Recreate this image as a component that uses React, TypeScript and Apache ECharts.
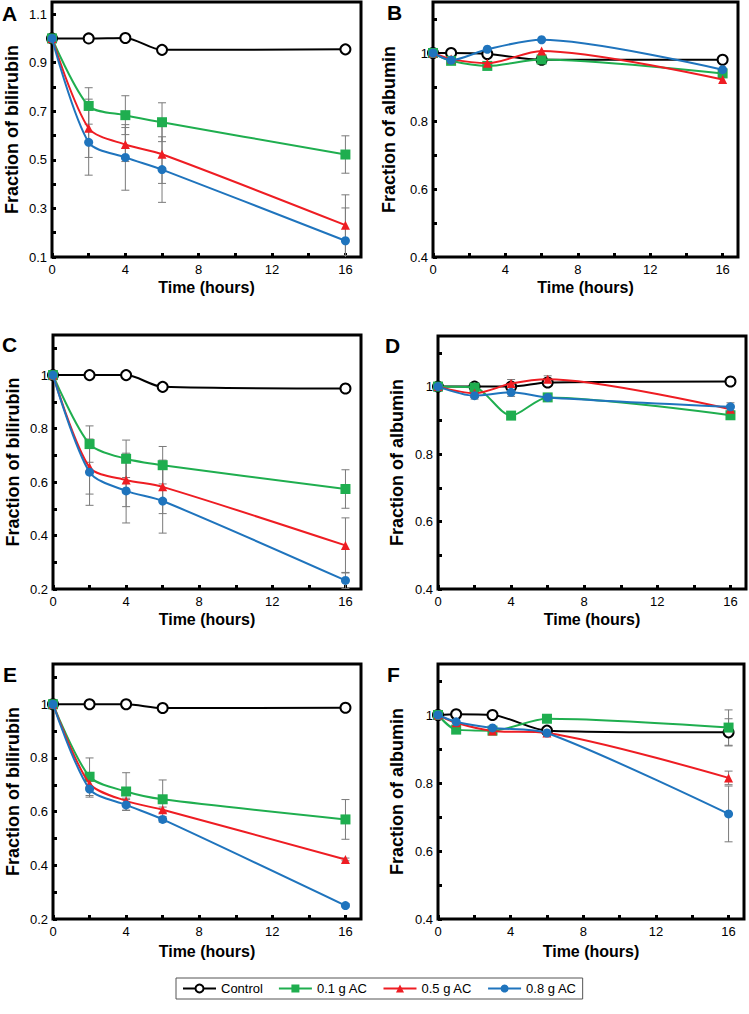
import React, { useEffect, useRef } from "react";
import * as echarts from "echarts";

// ---- data ----
const seriesNames = ["Control", "0.1 g AC", "0.5 g AC", "0.8 g AC"];

const timesA = [0, 2, 4, 6, 16];
const aControl = [1.0, 1.0, 1.002, 0.953, 0.955];
const aLow = [1.0, 0.722, 0.684, 0.655, 0.522];
const aMid = [1.0, 0.63, 0.563, 0.523, 0.231];
const aHigh = [1.0, 0.572, 0.51, 0.46, 0.167];
const aLowErr = [0, 0.075, 0.08, 0.08, 0.077];
const aMidErr = [0, 0.12, 0.07, 0.12, 0.125];
const aHighErr = [0, 0.135, 0.135, 0.135, 0.135];

const timesB = [0, 1, 3, 6, 16];
const bControl = [1.0, 1.0, 0.997, 0.98, 0.98];
const bLow = [1.0, 0.977, 0.962, 0.981, 0.94];
const bMid = [1.0, 0.982, 0.97, 1.006, 0.922];
const bHigh = [1.0, 0.979, 1.011, 1.039, 0.951];

const timesC = [0, 2, 4, 6, 16];
const cControl = [1.0, 1.0, 1.0, 0.956, 0.95];
const cLow = [1.0, 0.742, 0.687, 0.663, 0.574];
const cMid = [1.0, 0.655, 0.608, 0.582, 0.363];
const cHigh = [1.0, 0.637, 0.567, 0.529, 0.232];
const cLowErr = [0, 0.068, 0.07, 0.07, 0.072];
const cMidErr = [0, 0.1, 0.1, 0.1, 0.103];
const cHighErr = [0, 0.124, 0.12, 0.12, 0.03];

const timesD = [0, 2, 4, 6, 16];
const dControl = [1.0, 1.0, 1.0, 1.012, 1.015];
const dLow = [1.0, 0.997, 0.914, 0.968, 0.915];
const dMid = [1.0, 0.98, 1.009, 1.022, 0.933];
const dHigh = [1.0, 0.973, 0.983, 0.968, 0.94];
const dMidErr = [0, 0.005, 0.012, 0.01, 0.008];
const dHighErr = [0, 0.01, 0.012, 0.008, 0.012];

const timesE = [0, 2, 4, 6, 16];
const eControl = [1.0, 1.0, 1.0, 0.986, 0.987];
const eLow = [1.0, 0.73, 0.675, 0.646, 0.571];
const eMid = [1.0, 0.704, 0.64, 0.607, 0.422];
const eHigh = [1.0, 0.684, 0.625, 0.571, 0.25];
const eLowErr = [0, 0.07, 0.07, 0.072, 0.074];
const eMidErr = [0, 0.01, 0.01, 0.01, 0.005];
const eHighErr = [0, 0.03, 0.02, 0.01, 0.005];

const timesF = [0, 1, 3, 6, 16];
const fControl = [1.0, 1.002, 1.0, 0.954, 0.949];
const fLow = [1.0, 0.957, 0.954, 0.989, 0.963];
const fMid = [1.0, 0.977, 0.953, 0.947, 0.815];
const fHigh = [1.0, 0.98, 0.962, 0.947, 0.709];
const fControlErr = [0, 0, 0, 0, 0.04];
const fLowErr = [0, 0, 0, 0, 0.052];
const fMidErr = [0, 0, 0, 0, 0.02];
const fHighErr = [0, 0, 0, 0, 0.082];

const xTickValues = [0, 2, 4, 6, 8, 10, 12, 14, 16];
const xLabelValues = [0, 4, 8, 12, 16];
const yTicksA = [0.1, 0.2, 0.3, 0.4, 0.5, 0.6, 0.7, 0.8, 0.9, 1.0, 1.1];
const yLabelsA = [0.1, 0.3, 0.5, 0.7, 0.9, 1.1];
const yTicksCE = [0.2, 0.3, 0.4, 0.5, 0.6, 0.7, 0.8, 0.9, 1.0, 1.1];
const yLabelsCE = [0.2, 0.4, 0.6, 0.8, 1];
const yTicksAlb = [0.4, 0.5, 0.6, 0.7, 0.8, 0.9, 1.0, 1.1];
const yLabelsAlb = [0.4, 0.6, 0.8, 1];

// ---- styles ----
const colors = ["#000000", "#1fae4f", "#ee1d23", "#1f74bd"];
const symbols = ["emptyCircle", "rect", "triangle", "circle"];
const symbolSizes = [10, 10, 9, 9];
const FONT = "Liberation Sans, Arial, sans-serif";

const panels = [
  { letter: "A", lx: 2, ly: 3, grid: { left: 52, top: 2, width: 309, height: 255 }, yMin: 0.1, yTicks: yTicksA, yLabels: yLabelsA, yName: "Fraction of bilirubin", yGap: 31, xGap: 22, times: timesA, data: [aControl, aLow, aMid, aHigh], errs: [null, aLowErr, aMidErr, aHighErr] },
  { letter: "B", lx: 387, ly: 2, grid: { left: 433, top: 2, width: 305, height: 255 }, yMin: 0.4, yTicks: yTicksAlb, yLabels: yLabelsAlb, yName: "Fraction of albumin", yGap: 35, xGap: 22, times: timesB, data: [bControl, bLow, bMid, bHigh], errs: [null, null, null, null] },
  { letter: "C", lx: 2, ly: 334, grid: { left: 53, top: 335, width: 308, height: 254 }, yMin: 0.2, yTicks: yTicksCE, yLabels: yLabelsCE, yName: "Fraction of bilirubin", yGap: 31, xGap: 22, times: timesC, data: [cControl, cLow, cMid, cHigh], errs: [null, cLowErr, cMidErr, cHighErr] },
  { letter: "D", lx: 385, ly: 335, grid: { left: 438, top: 336, width: 308, height: 253 }, yMin: 0.4, yTicks: yTicksAlb, yLabels: yLabelsAlb, yName: "Fraction of albumin", yGap: 32, xGap: 22, times: timesD, data: [dControl, dLow, dMid, dHigh], errs: [null, null, dMidErr, dHighErr] },
  { letter: "E", lx: 3, ly: 664, grid: { left: 53, top: 664, width: 308, height: 255 }, yMin: 0.2, yTicks: yTicksCE, yLabels: yLabelsCE, yName: "Fraction of bilirubin", yGap: 31, xGap: 24, times: timesE, data: [eControl, eLow, eMid, eHigh], errs: [null, eLowErr, eMidErr, eHighErr] },
  { letter: "F", lx: 387, ly: 664, grid: { left: 438, top: 664, width: 306, height: 255 }, yMin: 0.4, yTicks: yTicksAlb, yLabels: yLabelsAlb, yName: "Fraction of albumin", yGap: 32, xGap: 24, times: timesF, data: [fControl, fLow, fMid, fHigh], errs: [fControlErr, fLowErr, fMidErr, fHighErr] },
];

function buildOption() {
  const grids: any[] = [];
  const xAxes: any[] = [];
  const yAxes: any[] = [];
  const series: any[] = [];
  const graphics: any[] = [];

  panels.forEach((p, i) => {
    grids.push({ ...p.grid, show: true, borderColor: "#000", borderWidth: 3, backgroundColor: "transparent", containLabel: false });
    xAxes.push({
      type: "value", gridIndex: i, min: 0, max: 16.85, interval: 2,
      name: "Time (hours)", nameLocation: "middle", nameGap: p.xGap,
      nameTextStyle: { fontFamily: FONT, fontSize: 16, fontWeight: "bold", color: "#000" },
      axisLine: { show: false },
      axisTick: { show: true, inside: true, length: 4, customValues: xTickValues, lineStyle: { color: "#000", width: 3 } },
      axisLabel: { show: true, customValues: xLabelValues, fontFamily: FONT, fontSize: 13, color: "#000", margin: 6 },
      splitLine: { show: false },
    });
    yAxes.push({
      type: "value", gridIndex: i, min: p.yMin, max: 1.15, interval: 0.1,
      name: p.yName, nameLocation: "middle", nameGap: p.yGap, nameRotate: 90,
      nameTextStyle: { fontFamily: FONT, fontSize: 18, fontWeight: "bold", color: "#000" },
      axisLine: { show: false },
      axisTick: { show: true, inside: true, length: 4, customValues: p.yTicks, lineStyle: { color: "#000", width: 3 } },
      axisLabel: { show: true, customValues: p.yLabels, fontFamily: FONT, fontSize: 13, color: "#000", margin: 5 },
      splitLine: { show: false },
    });

    // error bars
    p.errs.forEach((err, k) => {
      if (!err) return;
      const d: number[][] = [];
      err.forEach((e, j) => {
        if (e > 0) d.push([p.times[j], p.data[k][j] - e, p.data[k][j] + e]);
      });
      if (!d.length) return;
      series.push({
        type: "custom", xAxisIndex: i, yAxisIndex: i, z: 1, clip: true, silent: true,
        encode: { x: 0, y: [1, 2] },
        data: d,
        renderItem: (params: any, api: any) => {
          const x = api.value(0);
          const top = api.coord([x, api.value(2)]);
          const bot = api.coord([x, api.value(1)]);
          const cap = 4;
          const st = { stroke: "#7a7a7a", lineWidth: 1 };
          return {
            type: "group",
            children: [
              { type: "line", shape: { x1: top[0], y1: top[1], x2: bot[0], y2: bot[1] }, style: st },
              { type: "line", shape: { x1: top[0] - cap, y1: top[1], x2: top[0] + cap, y2: top[1] }, style: st },
              { type: "line", shape: { x1: bot[0] - cap, y1: bot[1], x2: bot[0] + cap, y2: bot[1] }, style: st },
            ],
          };
        },
      });
    });

    p.data.forEach((vals, k) => {
      series.push({
        type: "line", name: seriesNames[k], xAxisIndex: i, yAxisIndex: i, z: 2 + k,
        data: vals.map((v, j) => [p.times[j], v]),
        smooth: 0.28,
        symbol: symbols[k], symbolSize: symbolSizes[k], showSymbol: true,
        lineStyle: { color: colors[k], width: 2 },
        itemStyle: k === 0 ? { color: "#000", borderColor: "#000", borderWidth: 2 } : { color: colors[k], borderColor: colors[k], borderWidth: 0 },
      });
    });

    graphics.push({
      type: "text", left: p.lx, top: p.ly,
      style: { text: p.letter, fontFamily: FONT, fontSize: 21, fontWeight: "bold", fill: "#000" },
    });
  });

  return {
    animation: false,
    backgroundColor: "#fff",
    grid: grids,
    xAxis: xAxes,
    yAxis: yAxes,
    series,
    graphic: graphics,
    legend: {
      data: seriesNames,
      left: 176, top: 978,
      orient: "horizontal",
      itemWidth: 33, itemHeight: 10, itemGap: 15,
      padding: [4, 6, 4, 6],
      borderColor: "#555", borderWidth: 1,
      textStyle: { fontFamily: FONT, fontSize: 13, color: "#000" },
    },
  };
}

export default function App() {
  const ref = useRef<HTMLDivElement>(null);
  useEffect(() => {
    if (!ref.current) return;
    const chart = echarts.init(ref.current, undefined, { renderer: "svg" });
    chart.setOption(buildOption() as any);
    return () => chart.dispose();
  }, []);
  return <div ref={ref} style={{ position: "absolute", left: 0, top: 0, width: 749, height: 1014 }} />;
}
